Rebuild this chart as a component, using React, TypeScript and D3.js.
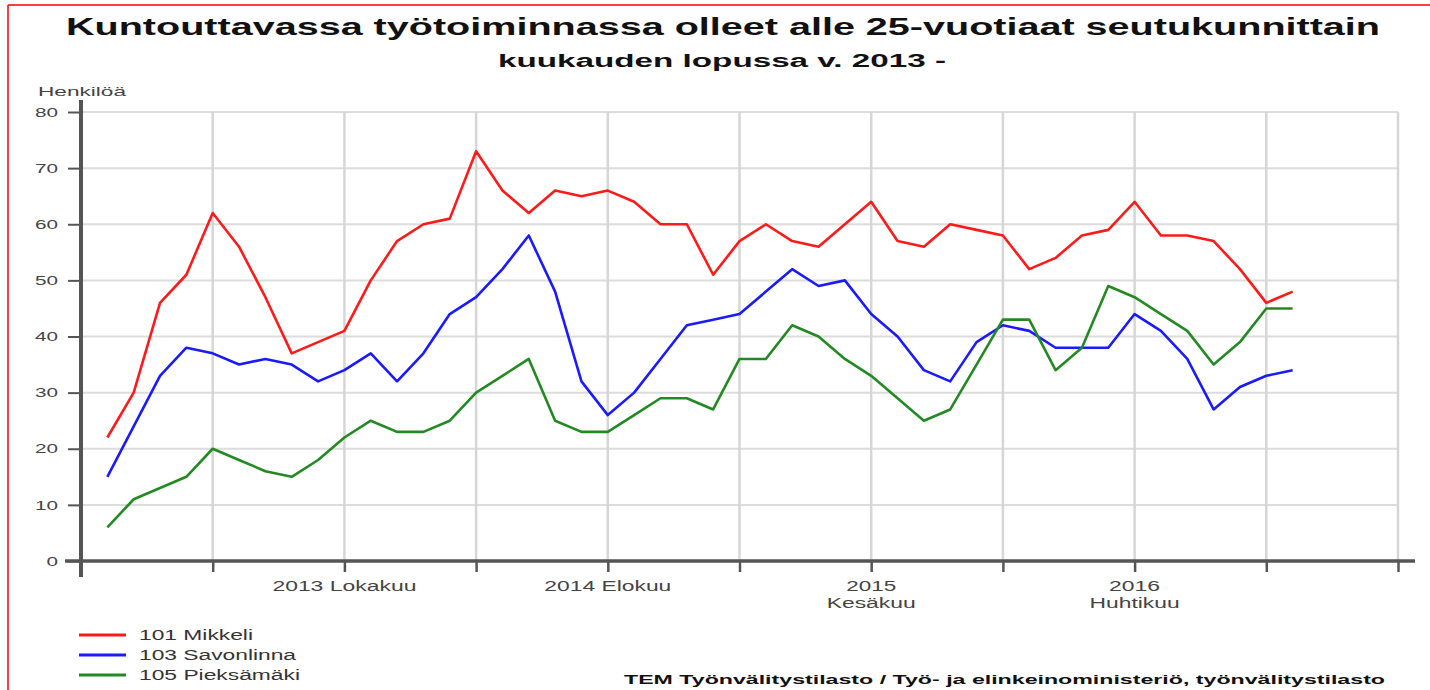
import React, { useEffect, useRef } from "react";
import * as d3 from "d3";

// month index 0 = tammikuu 2013
const seriesNames = ["101 Mikkeli", "103 Savonlinna", "105 Pieksämäki"];
const seriesColors = ["#ff1a1a", "#1a1aff", "#238a23"];

const mikkeli = [
  22, 30, 46, 51, 62, 56, 47, 37, 39, 41, 50, 57, 60, 61, 73, 66, 62, 66, 65, 66,
  64, 60, 60, 51, 57, 60, 57, 56, 60, 64, 57, 56, 60, 59, 58, 52, 54, 58, 59, 64,
  58, 58, 57, 52, 46, 48,
];
const savonlinna = [
  15, 24, 33, 38, 37, 35, 36, 35, 32, 34, 37, 32, 37, 44, 47, 52, 58, 48, 32, 26,
  30, 36, 42, 43, 44, 48, 52, 49, 50, 44, 40, 34, 32, 39, 42, 41, 38, 38, 38, 44,
  41, 36, 27, 31, 33, 34,
];
const pieksamaki = [
  6, 11, 13, 15, 20, 18, 16, 15, 18, 22, 25, 23, 23, 25, 30, 33, 36, 25, 23, 23,
  26, 29, 29, 27, 36, 36, 42, 40, 36, 33, 29, 25, 27, 35, 43, 43, 34, 38, 49, 47,
  44, 41, 35, 39, 45, 45,
];

const yTicks = [0, 10, 20, 30, 40, 50, 60, 70, 80];
// grid every 5 months, from joulukuu 2012 to helmikuu 2017
const gridMonths = [-1, 4, 9, 14, 19, 24, 29, 34, 39, 44, 49];
const labelMonths = [9, 19, 29, 39];
const labelLines = [["2013 Lokakuu"], ["2014 Elokuu"], ["2015", "Kesäkuu"], ["2016", "Huhtikuu"]];
const labelWidths = [[144], [127], [50, 89], [51, 90]];

const title = "Kuntouttavassa työtoiminnassa olleet alle 25-vuotiaat seutukunnittain";
const subtitle = "kuukauden lopussa v. 2013 -";
const yTitle = "Henkilöä";
const source = "TEM Työnvälitystilasto / Työ- ja elinkeinoministeriö, työnvälitystilasto";

const FONT = "'Liberation Sans', Arial, sans-serif";

function App() {
  const ref = useRef<SVGSVGElement>(null);

  useEffect(() => {
    document.body.style.margin = "0";
    const svg = d3.select(ref.current);
    svg.selectAll("*").remove();

    const x = d3.scaleLinear().domain([-1, 49]).range([81, 1398]);
    const y = d3.scaleLinear().domain([0, 80]).range([561, 112]);

    // red frame (top + left edge)
    svg.append("line").attr("x1", 8).attr("x2", 1430).attr("y1", 5).attr("y2", 5)
      .attr("stroke", "#ff0000").attr("stroke-width", 1.5);
    svg.append("line").attr("x1", 8).attr("x2", 8).attr("y1", 5).attr("y2", 690)
      .attr("stroke", "#ff0000").attr("stroke-width", 1.5);

    // titles
    svg.append("text").attr("x", 66).attr("y", 35).text(title)
      .attr("font-family", FONT).attr("font-weight", "bold").attr("font-size", 24)
      .attr("textLength", 1314).attr("lengthAdjust", "spacingAndGlyphs").attr("fill", "#111");
    svg.append("text").attr("x", 498).attr("y", 67).text(subtitle)
      .attr("font-family", FONT).attr("font-weight", "bold").attr("font-size", 18)
      .attr("textLength", 448).attr("lengthAdjust", "spacingAndGlyphs").attr("fill", "#111");
    svg.append("text").attr("x", 38).attr("y", 96).text(yTitle)
      .attr("font-family", FONT).attr("font-size", 13)
      .attr("textLength", 88).attr("lengthAdjust", "spacingAndGlyphs").attr("fill", "#444");

    // grid
    svg.append("g").selectAll("line").data(yTicks).join("line")
      .attr("x1", 81).attr("x2", x(49)).attr("y1", d => y(d)).attr("y2", d => y(d))
      .attr("stroke", "#dcdcdc").attr("stroke-width", 2);
    svg.append("g").selectAll("line").data(gridMonths.slice(1)).join("line")
      .attr("x1", d => x(d)).attr("x2", d => x(d)).attr("y1", y(80)).attr("y2", y(0))
      .attr("stroke", "#d6d6d6").attr("stroke-width", 2.5);

    // y axis
    const yAxis = svg.append("g").attr("transform", `translate(81,0)`)
      .call(d3.axisLeft(y).tickValues(yTicks).tickSize(13).tickPadding(10));
    yAxis.select(".domain").remove();
    yAxis.selectAll(".tick line").attr("stroke", "#555").attr("stroke-width", 2);
    yAxis.selectAll(".tick text")
      .attr("font-family", FONT).attr("font-size", 13).attr("fill", "#444")
      .attr("textLength", (d: any) => String(d).length * 11.5)
      .attr("lengthAdjust", "spacingAndGlyphs");
    svg.append("line").attr("x1", 81).attr("x2", 81).attr("y1", 100).attr("y2", 577)
      .attr("stroke", "#555").attr("stroke-width", 4);

    // x axis
    const xAxis = svg.append("g").attr("transform", `translate(0,${y(0)})`)
      .call(d3.axisBottom(x).tickValues(gridMonths.slice(1)).tickSize(11).tickFormat(() => ""));
    xAxis.select(".domain").remove();
    xAxis.selectAll(".tick line").attr("stroke", "#555").attr("stroke-width", 2.5);
    svg.append("line").attr("x1", 65).attr("x2", 1415).attr("y1", y(0)).attr("y2", y(0))
      .attr("stroke", "#555").attr("stroke-width", 3.5);

    const lbl = svg.append("g").selectAll("text").data(labelMonths).join("text")
      .attr("font-family", FONT).attr("font-size", 14).attr("fill", "#444")
      .attr("text-anchor", "middle");
    lbl.each(function (m, i) {
      d3.select(this).selectAll("tspan").data(labelLines[i]).join("tspan")
        .attr("x", x(m)).attr("y", (_, j) => 591 + j * 17)
        .attr("textLength", (_, j) => labelWidths[i][j])
        .attr("lengthAdjust", "spacingAndGlyphs")
        .text(t => t);
    });

    // lines
    const allSeries = [mikkeli, savonlinna, pieksamaki];
    const line = d3.line<number>().x((_, i) => x(i)).y(d => y(d));
    svg.append("g").selectAll("path").data(allSeries).join("path")
      .attr("d", d => line(d))
      .attr("fill", "none")
      .attr("stroke", (_, i) => seriesColors[i])
      .attr("stroke-width", 2.6)
      .attr("stroke-linejoin", "round");

    // legend
    const legendW = [114, 157, 161];
    const leg = svg.append("g").selectAll("g").data(seriesNames).join("g")
      .attr("transform", (_, i) => `translate(79,${635 + i * 20})`);
    leg.append("line").attr("x1", 0).attr("x2", 47).attr("y1", 0).attr("y2", 0)
      .attr("stroke", (_, i) => seriesColors[i]).attr("stroke-width", 3);
    leg.append("text").attr("x", 60).attr("y", 5).text(d => d)
      .attr("font-family", FONT).attr("font-size", 14).attr("fill", "#333")
      .attr("textLength", (_, i) => legendW[i]).attr("lengthAdjust", "spacingAndGlyphs");

    // source
    svg.append("text").attr("x", 624).attr("y", 684).text(source)
      .attr("font-family", FONT).attr("font-weight", "bold").attr("font-size", 13)
      .attr("textLength", 761).attr("lengthAdjust", "spacingAndGlyphs").attr("fill", "#111");
  }, []);

  return <svg ref={ref} width={1430} height={690} style={{ display: "block", background: "#fff" }} />;
}

export default App;
